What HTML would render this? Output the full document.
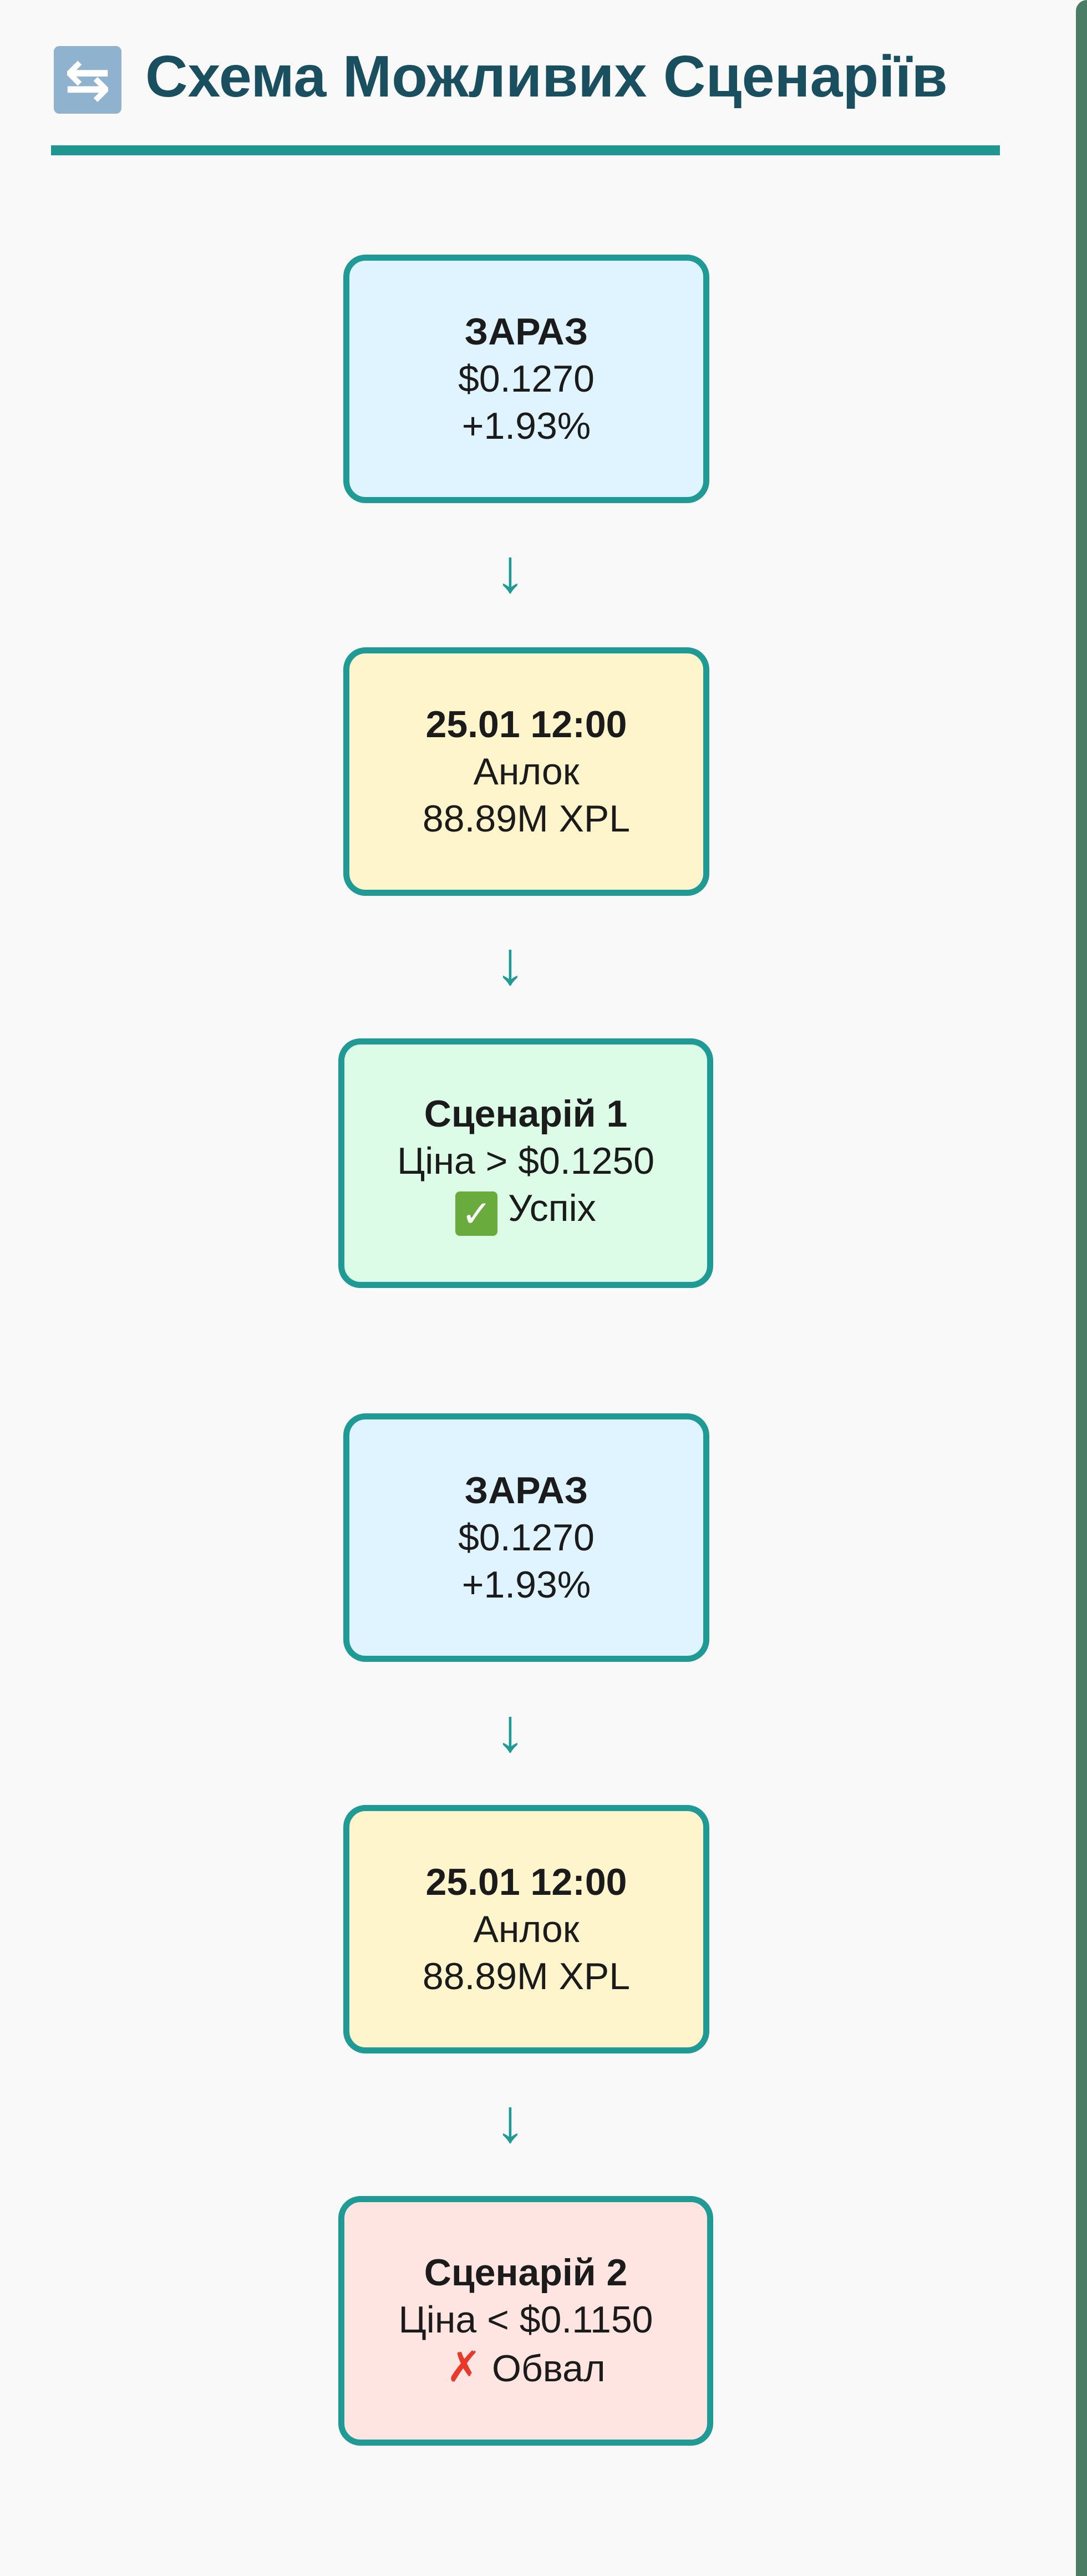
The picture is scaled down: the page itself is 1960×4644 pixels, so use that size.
<!DOCTYPE html>
<html><head><meta charset="utf-8"><style>
html,body{margin:0;padding:0;}
body{width:1960px;height:4644px;background:#f8f9f8;position:relative;overflow:hidden;font-family:"Liberation Sans","DejaVu Sans",sans-serif;}
.rb{position:absolute;right:0;top:0;width:20px;height:4644px;background:#4a7c66;border-top-left-radius:30px;}
.title{position:absolute;left:262px;top:78px;font-size:106px;font-weight:bold;color:#1a4f5f;white-space:nowrap;letter-spacing:0;}
.icon{position:absolute;left:97px;top:83px;width:122px;height:122px;background:#8fb3cf;border-radius:10px;color:#fff;font-size:100px;line-height:122px;text-align:center;font-weight:bold;}
.rule{position:absolute;left:92px;top:262px;width:1711px;height:18px;background:#1f9690;}
.box{position:absolute;box-sizing:border-box;border:11px solid #1f9a94;border-radius:40px;display:flex;flex-direction:column;justify-content:center;align-items:center;font-size:68px;line-height:85px;color:#1b1b1b;text-align:center;}
.box b{font-weight:bold;}
.a{left:619px;width:660px;height:448px;}
.w{left:610px;width:676px;height:450px;}
.blue{background:#e0f4ff}.yel{background:#fff5cc}.grn{background:#dcfce7}.red{background:#fee5e2}
.arr{position:absolute;left:820px;width:200px;text-align:center;color:#1f9a94;font-size:110px;line-height:110px;}
.chk{display:inline-block;width:76px;height:80px;background:#6aab3d;border-radius:8px;color:#fff;font-size:66px;line-height:80px;vertical-align:-10px;font-weight:bold;}
.x{color:#e8392b;font-weight:bold;font-size:76px;}
</style></head><body>
<div class="rb"></div>
<div class="icon">⇆</div>
<div class="title">Схема Можливих Сценаріїв</div>
<div class="rule"></div>

<div class="box a blue" style="top:459px"><b>ЗАРАЗ</b><div>$0.1270</div><div>+1.93%</div></div>
<div class="arr" style="top:975px">↓</div>
<div class="box a yel" style="top:1167px"><b>25.01 12:00</b><div>Анлок</div><div>88.89M XPL</div></div>
<div class="arr" style="top:1682px">↓</div>
<div class="box w grn" style="top:1872px"><b>Сценарій 1</b><div>Ціна &gt; $0.1250</div><div><span class="chk">✓</span> Успіх</div></div>

<div class="box a blue" style="top:2548px"><b>ЗАРАЗ</b><div>$0.1270</div><div>+1.93%</div></div>
<div class="arr" style="top:3065px">↓</div>
<div class="box a yel" style="top:3254px"><b>25.01 12:00</b><div>Анлок</div><div>88.89M XPL</div></div>
<div class="arr" style="top:3769px">↓</div>
<div class="box w red" style="top:3959px"><b>Сценарій 2</b><div>Ціна &lt; $0.1150</div><div><span class="x">✗</span> Обвал</div></div>
</body></html>
